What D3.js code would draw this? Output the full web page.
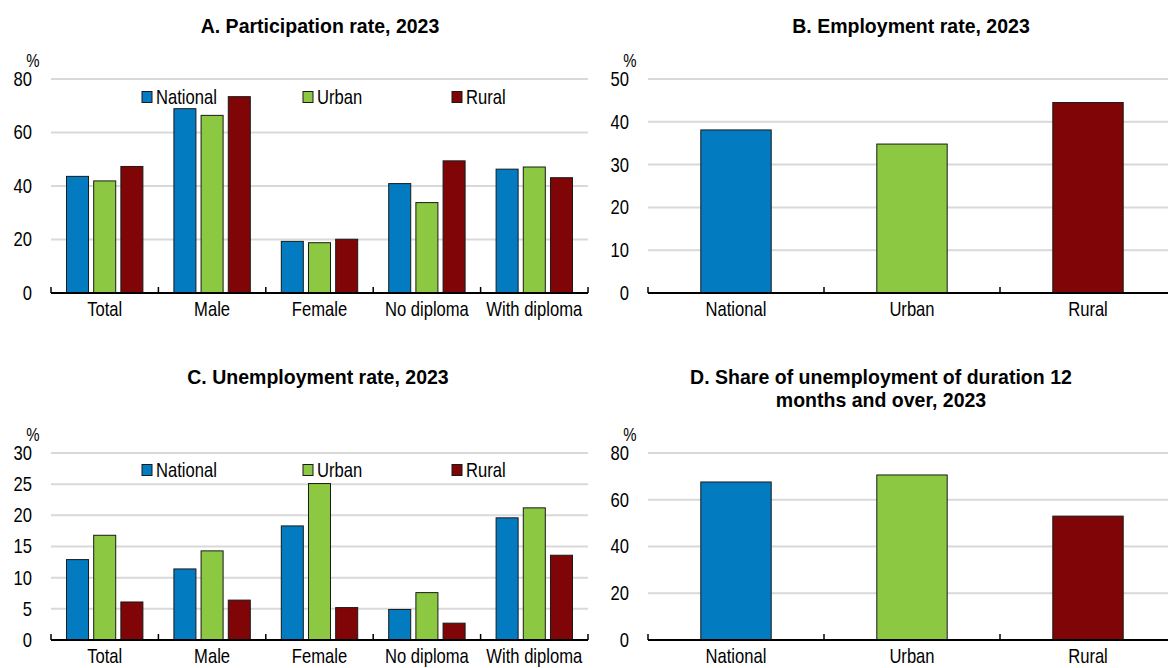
<!DOCTYPE html>
<html>
<head>
<meta charset="utf-8">
<script src="https://cdn.jsdelivr.net/npm/d3@7"></script>
<style>
  html, body { margin: 0; padding: 0; background: #fff; }
  svg text { font-family: "Liberation Sans", Arial, sans-serif; fill: #000; }
</style>
</head>
<body>
<svg id="chart" width="1168" height="668"></svg>
<script>
// ---- Data ----
const groups = ["Total", "Male", "Female", "No diploma", "With diploma"];
const seriesNames = ["National", "Urban", "Rural"];
const seriesColors = ["#037BC1", "#8CC841", "#7F0506"];

const participationNational = [43.6, 68.9, 19.3, 40.9, 46.3];
const participationUrban    = [41.9, 66.4, 18.8, 33.8, 47.1];
const participationRural    = [47.3, 73.4, 20.1, 49.4, 43.1];

const employmentRate = [38.1, 34.8, 44.5];

const unemploymentNational = [12.9, 11.4, 18.3, 4.9, 19.6];
const unemploymentUrban    = [16.8, 14.3, 25.1, 7.6, 21.2];
const unemploymentRural    = [6.1, 6.4, 5.2, 2.7, 13.6];

const longTermShare = [67.6, 70.6, 53.0];

const ticksA = [0, 20, 40, 60, 80];
const ticksB = [0, 10, 20, 30, 40, 50];
const ticksC = [0, 5, 10, 15, 20, 25, 30];
const ticksD = [0, 20, 40, 60, 80];

const titleA = ["A. Participation rate, 2023"];
const titleB = ["B. Employment rate, 2023"];
const titleC = ["C. Unemployment rate, 2023"];
const titleD = ["D. Share of unemployment of duration 12", "months and over, 2023"];

// ---- Drawing ----
const svg = d3.select("#chart");
const FS = 20;        // body font size (Arial Narrow look)
const SX = 0.83;      // horizontal compression for narrow look
const TFS = 21;       // title font size
const TSX = 0.93;     // title compression

function squeeze(sel, X, Y, k) {
  return sel.attr("transform", `scale(${k},1)`)
    .attr("x", typeof X === "function" ? (d, i) => X(d, i) / k : X / k)
    .attr("y", Y);
}
function narrow(sel, X, Y) { return squeeze(sel, X, Y, SX); }

function panel(opts) {
  const g = svg.append("g");
  const x = d3.scaleBand().domain(opts.categories).range([opts.x0, opts.x1]).paddingInner(0).paddingOuter(0);
  const y = d3.scaleLinear().domain([0, opts.ticks[opts.ticks.length - 1]]).range([opts.yBottom, opts.yTop]);

  // gridlines
  g.append("g").selectAll("line").data(opts.ticks.filter(t => t !== 0)).join("line")
    .attr("x1", opts.x0).attr("x2", opts.x1)
    .attr("y1", d => y(d)).attr("y2", d => y(d))
    .attr("stroke", "#d9d9d9").attr("stroke-width", 2);

  // y tick labels
  narrow(g.append("g").selectAll("text").data(opts.ticks).join("text"), opts.x0 - 19, d => y(d))
    .attr("dy", "0.35em").attr("text-anchor", "end").attr("font-size", FS).text(d => d);

  // % unit
  narrow(g.append("text"), opts.x0 - 18, opts.yTop - 12)
    .attr("text-anchor", "middle").attr("font-size", 18).text("%");

  // title
  squeeze(g.append("g").selectAll("text").data(opts.title).join("text"),
      opts.titleX, (d, i) => opts.titleY + i * 23, TSX)
    .attr("text-anchor", "middle").attr("font-size", TFS).attr("font-weight", "bold").text(d => d);

  // bars
  if (opts.series) {
    const pad = opts.groupPad;
    const x1 = d3.scaleBand().domain(seriesNames).range([pad, x.bandwidth() - pad]).paddingInner(0.19);
    const rows = opts.categories.map((c, i) => ({ c, vals: opts.series.map((s, j) => ({ name: seriesNames[j], v: s[i], color: seriesColors[j] })) }));
    g.append("g").selectAll("g").data(rows).join("g")
      .attr("transform", d => `translate(${x(d.c)},0)`)
      .selectAll("rect").data(d => d.vals).join("rect")
      .attr("x", d => x1(d.name)).attr("width", x1.bandwidth())
      .attr("y", d => y(d.v)).attr("height", d => y(0) - y(d.v))
      .attr("fill", d => d.color).attr("stroke", "#1a1a1a").attr("stroke-width", 1);
  } else {
    const w = x.bandwidth() * 0.4;
    g.append("g").selectAll("rect").data(opts.categories.map((c, i) => ({ c, v: opts.values[i], color: seriesColors[i] }))).join("rect")
      .attr("x", d => x(d.c) + (x.bandwidth() - w) / 2).attr("width", w)
      .attr("y", d => y(d.v)).attr("height", d => y(0) - y(d.v))
      .attr("fill", d => d.color).attr("stroke", "#1a1a1a").attr("stroke-width", 1);
  }

  // x axis line and ticks
  const boundaries = opts.categories.map(c => x(c)).concat([opts.x1]);
  g.append("line").attr("x1", opts.x0).attr("x2", opts.x1).attr("y1", y(0)).attr("y2", y(0))
    .attr("stroke", "#000").attr("stroke-width", 2);
  g.append("g").selectAll("line").data(boundaries).join("line")
    .attr("x1", d => d).attr("x2", d => d).attr("y1", y(0)).attr("y2", y(0) - 6)
    .attr("stroke", "#000").attr("stroke-width", 1.5);

  // category labels
  narrow(g.append("g").selectAll("text").data(opts.categories).join("text"), d => x(d) + x.bandwidth() / 2, y(0) + 23)
    .attr("text-anchor", "middle").attr("font-size", FS).text(d => d);

  // legend
  if (opts.legendY) {
    const lx = [142, 303, 452];
    const lg = g.append("g").selectAll("g").data(seriesNames).join("g")
      .attr("transform", (d, i) => `translate(${lx[i]},${opts.legendY})`);
    lg.append("rect").attr("x", 0).attr("y", -5.5).attr("width", 10).attr("height", 11)
      .attr("fill", (d, i) => seriesColors[i]).attr("stroke", "#1a1a1a").attr("stroke-width", 1);
    narrow(lg.append("text"), 14, 0).attr("dy", "0.35em").attr("font-size", FS).text(d => d);
  }
}

panel({ categories: groups, series: [participationNational, participationUrban, participationRural],
  ticks: ticksA, x0: 51, x1: 588, yBottom: 293, yTop: 79, title: titleA, titleX: 320, titleY: 33, groupPad: 15.5, legendY: 97 });
panel({ categories: seriesNames, values: employmentRate,
  ticks: ticksB, x0: 648, x1: 1176, yBottom: 293, yTop: 79, title: titleB, titleX: 911, titleY: 33 });
panel({ categories: groups, series: [unemploymentNational, unemploymentUrban, unemploymentRural],
  ticks: ticksC, x0: 51, x1: 588, yBottom: 640, yTop: 453, title: titleC, titleX: 318, titleY: 384, groupPad: 15.5, legendY: 470 });
panel({ categories: seriesNames, values: longTermShare,
  ticks: ticksD, x0: 648, x1: 1176, yBottom: 640, yTop: 453, title: titleD, titleX: 881, titleY: 384 });
</script>
</body>
</html>
